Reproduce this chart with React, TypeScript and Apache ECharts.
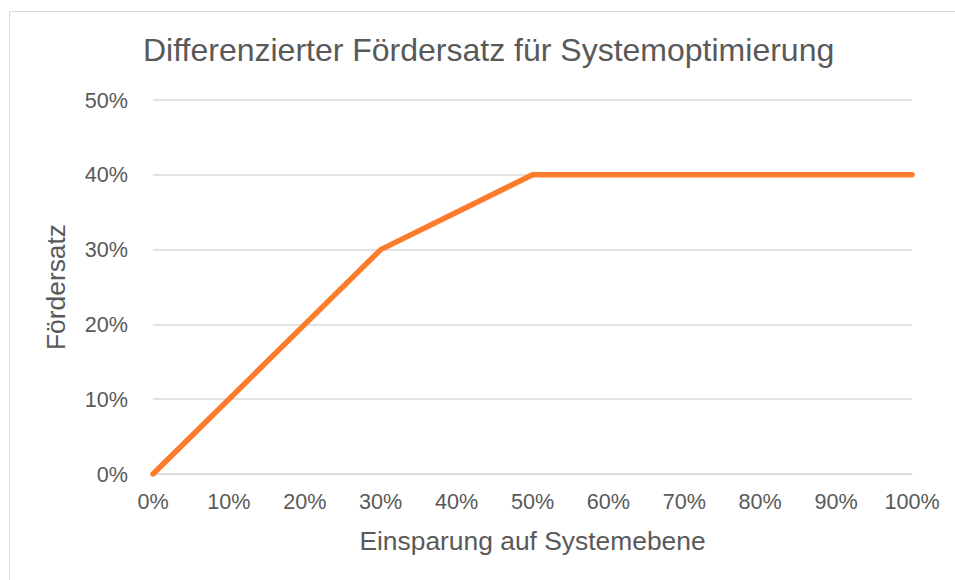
import React, { useEffect, useRef } from "react";
import * as echarts from "echarts";

const titleText = "Differenzierter Fördersatz für Systemoptimierung";
const xAxisTitle = "Einsparung auf Systemebene";
const yAxisTitle = "Fördersatz";
const savingsCategories = ["0%", "10%", "20%", "30%", "40%", "50%", "60%", "70%", "80%", "90%", "100%"];
const fundingRate = [0, 10, 20, 30, 35, 40, 40, 40, 40, 40, 40];

export default function App() {
  const ref = useRef<HTMLDivElement>(null);
  useEffect(() => {
    if (!ref.current) return;
    const chart = echarts.init(ref.current, undefined, { renderer: "svg" });
    const font = "'Liberation Sans', Arial, sans-serif";
    const textColor = "#595959";
    chart.setOption({
      animation: false,
      backgroundColor: "#ffffff",
      title: {
        text: titleText,
        left: 143,
        top: 34,
        padding: 0,
        textStyle: { fontFamily: font, fontSize: 32, fontWeight: "normal", color: textColor },
      },
      graphic: [
        {
          type: "rect",
          shape: { x: 9.5, y: 11.5, width: 1200, height: 1200 },
          style: { fill: "none", stroke: "#d9d9d9", lineWidth: 1 },
          silent: true,
        },
      ],
      grid: { left: 153, right: 43, top: 100, bottom: 106 },
      xAxis: {
        type: "category",
        data: savingsCategories,
        boundaryGap: false,
        name: xAxisTitle,
        nameLocation: "middle",
        nameGap: 54,
        nameTextStyle: { fontFamily: font, fontSize: 26.4, color: textColor },
        axisLine: { show: true, lineStyle: { color: "#d9d9d9", width: 1.5 } },
        axisTick: { show: false },
        axisLabel: { fontFamily: font, fontSize: 21.6, color: textColor, margin: 16 },
        splitLine: { show: false },
      },
      yAxis: {
        type: "value",
        min: 0,
        max: 50,
        interval: 10,
        name: yAxisTitle,
        nameLocation: "middle",
        nameGap: 84,
        nameTextStyle: { fontFamily: font, fontSize: 26.4, color: textColor },
        axisLine: { show: false },
        axisTick: { show: false },
        axisLabel: { fontFamily: font, fontSize: 21.6, color: textColor, margin: 25, formatter: "{value}%" },
        splitLine: { show: true, lineStyle: { color: "#d9d9d9", width: 1.5 } },
      },
      series: [
        {
          type: "line",
          data: fundingRate,
          symbol: "none",
          lineStyle: { color: "#FD7C2B", width: 5.5, cap: "round", join: "round" },
        },
      ],
    });
    return () => chart.dispose();
  }, []);
  return (
    <div
      ref={ref}
      style={{ position: "fixed", left: 0, top: 0, width: 955, height: 580 }}
    />
  );
}
